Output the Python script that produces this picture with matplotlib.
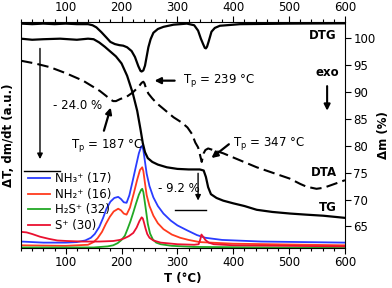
import numpy as np
import matplotlib
matplotlib.use("Agg")
import matplotlib.pyplot as plt
from matplotlib.ticker import MultipleLocator

# values (T in degC, y in the Δm % scale of the right axis)
dtg_T = [20, 40, 60, 80, 100, 120, 140, 148, 155, 164, 173, 180, 188, 196, 203, 210, 218, 224,
         230, 234, 236, 239, 242, 245, 248, 252, 257, 265, 275, 293, 317, 330, 337, 342, 346,
         349, 351, 353, 356, 361, 367, 376, 412, 500, 600]
dtg_y = [102.7, 102.6, 102.7, 102.6, 102.7, 102.6, 102.6, 102.4, 102.0, 101.1, 100.1, 99.3,
         98.9, 98.7, 98.6, 98.3, 97.6, 96.5, 94.8, 93.9, 93.8, 94.0, 94.9, 96.6, 98.3, 99.8,
         101.0, 101.7, 102.1, 102.5, 102.7, 102.4, 101.4, 99.9, 98.9, 98.2, 98.1, 98.4, 99.4,
         101.2, 101.9, 102.3, 102.6, 102.7, 102.75]

tg_T = [20, 40, 60, 90, 120, 140, 150, 160, 170, 180, 190, 200, 210, 220, 228, 234, 238, 242,
        247, 255, 265, 281, 300, 320, 340, 347, 351, 355, 360, 370, 382, 400, 420, 442, 470,
        502, 530, 561, 600]
tg_y = [99.9, 99.7, 99.8, 99.9, 99.7, 99.9, 99.8, 99.2, 98.4, 97.5, 96.6, 95.3, 93.0, 89.8,
        86.5, 83.0, 80.5, 78.8, 77.7, 77.0, 76.5, 76.0, 75.7, 75.6, 75.6, 75.4, 74.2, 72.3,
        71.0, 70.3, 69.8, 69.3, 68.8, 68.1, 67.7, 67.4, 67.2, 67.0, 66.6]

dta_T = [20, 45, 72, 100, 131, 150, 161, 172, 180, 185, 190, 198, 209, 220, 230, 236, 239, 241,
         244, 248, 255, 263, 278, 293, 308, 318, 326, 332, 337, 340, 343.5, 347, 350, 355, 370,
         382, 412, 442, 470, 501, 520, 531, 549, 562, 573, 600]
dta_y = [95.8, 95.3, 94.6, 93.5, 92.1, 90.9, 90.2, 89.3, 88.6, 88.3, 88.3, 88.7, 89.1, 89.9,
         90.9, 91.7, 91.9, 91.6, 90.6, 89.7, 88.8, 87.9, 86.6, 85.3, 84.3, 83.4, 82.2, 80.6,
         79.7, 78.5, 77.0, 78.6, 79.2, 79.5, 79.0, 78.6, 77.3, 76.0, 75.0, 73.9, 72.9, 72.4,
         72.0, 72.2, 72.6, 73.6]

nh3_T = [20, 60, 100, 120, 135, 145, 152, 160, 167, 173, 180, 187, 194, 199, 204, 209, 214, 220,
         226, 231, 235, 237, 239, 242, 245, 250, 257, 265, 275, 288, 300, 317, 335, 350, 380,
         450, 600]
nh3_y = [62.2, 62.0, 62.0, 62.1, 62.4, 62.9, 63.6, 64.9, 66.6, 68.3, 69.6, 70.3, 70.5, 70.1,
         69.5, 69.4, 70.8, 73.5, 76.3, 78.6, 79.8, 80.0, 79.2, 77.0, 74.8, 72.5, 70.4, 68.8,
         67.4, 66.1, 65.2, 64.3, 63.4, 62.9, 62.5, 62.2, 62.0]

nh2_T = [20, 100, 140, 150, 157, 165, 172, 179, 186, 194, 199, 204, 209, 215, 222, 228, 233,
         237, 239, 242, 245, 250, 257, 265, 275, 290, 305, 320, 340, 400, 600]
nh2_y = [61.5, 61.4, 61.6, 62.1, 62.8, 64.0, 65.5, 66.8, 67.8, 68.3, 68.0, 67.4, 67.2, 68.5,
         71.2, 73.7, 75.5, 76.0, 75.3, 73.0, 70.8, 68.8, 67.0, 65.6, 64.5, 63.5, 62.9, 62.5,
         62.1, 61.8, 61.5]

h2s_T = [20, 150, 175, 185, 193, 200, 206, 211, 216, 221, 226, 231, 235, 237, 239, 241, 244,
         247, 251, 256, 262, 270, 290, 330, 600]
h2s_y = [61.1, 61.1, 61.3, 61.5, 61.9, 62.5, 63.3, 64.6, 66.0, 67.6, 69.3, 70.9, 71.8, 72.0,
         71.4, 70.0, 67.8, 65.5, 63.7, 62.6, 62.0, 61.7, 61.4, 61.2, 61.0]

s_T = [20, 30, 40, 54, 70, 85, 102, 130, 160, 185, 197, 205, 213, 221, 227, 232, 236, 238, 240,
       243, 246, 250, 257, 270, 300, 330, 338, 341, 343, 346, 350, 356, 365, 400, 600]
s_y = [64.0, 63.9, 63.6, 63.1, 62.7, 62.4, 62.3, 62.2, 62.2, 62.3, 62.5, 62.8, 63.2, 63.8, 64.8,
       66.0, 66.7, 66.5, 65.8, 64.6, 63.6, 62.9, 62.4, 62.0, 61.7, 61.6, 61.7, 62.6, 63.5, 63.1,
       62.5, 62.0, 61.7, 61.5, 61.3]

ms_labels = ["NH₃⁺ (17)", "NH₂⁺ (16)", "H₂S⁺ (32)", "S⁺ (30)"]
ms_colors = ["#2a3cff", "#ff3a1e", "#22a825", "#ea1030"]

fs = 8.5
fig = plt.figure(figsize=(3.92, 2.88), dpi=100)
ax = fig.add_axes([21 / 392, 1 - 248 / 288, 324 / 392, 226 / 288])

for T, y, c, lab in zip([nh3_T, nh2_T, h2s_T, s_T], [nh3_y, nh2_y, h2s_y, s_y], ms_colors, ms_labels):
    ax.plot(T, y, color=c, lw=1.3, label=lab, solid_joinstyle="round")

ax.plot(dtg_T, dtg_y, color="black", lw=1.6, solid_joinstyle="round")
ax.plot(tg_T, tg_y, color="black", lw=1.6, solid_joinstyle="round")
ax.plot(dta_T, dta_y, color="black", lw=1.5, dashes=(5.5, 2.5))

ax.set_xlim(20, 600)
ax.set_ylim(61, 103)
ax.xaxis.set_major_locator(MultipleLocator(100))
ax.xaxis.set_minor_locator(MultipleLocator(20))
ax.set_yticks([65, 70, 75, 80, 85, 90, 95, 100])
ax.yaxis.tick_right()
ax.yaxis.set_label_position("right")
ax.tick_params(axis="x", which="both", top=True, labeltop=True, direction="out", labelsize=fs, pad=2)
ax.tick_params(axis="x", which="major", length=4, width=0.8)
ax.tick_params(axis="x", which="minor", length=2.5, width=0.8)
ax.tick_params(axis="y", which="both", left=False, right=True, direction="out", length=4,
               width=0.8, labelsize=fs, pad=2)
for sp in ax.spines.values():
    sp.set_linewidth(0.8)

ax.set_xlabel("T (°C)", fontsize=fs, fontweight="bold", labelpad=2)
ax.set_ylabel("Δm (%)", fontsize=fs, fontweight="bold", labelpad=1)
ax.text(-0.04, 0.5, "ΔT, dm/dt (a.u.)", transform=ax.transAxes, rotation=90,
        ha="center", va="center", fontsize=fs, fontweight="bold")

# curve names
ax.text(585, 100.4, "DTG", ha="right", va="center", fontsize=fs, fontweight="bold")
ax.text(568, 93.6, "exo", ha="center", va="center", fontsize=fs, fontweight="bold")
ax.annotate("", xy=(568, 86.0), xytext=(568, 91.6),
            arrowprops=dict(arrowstyle="-|>", color="black", lw=1.5, mutation_scale=9))
ax.text(585, 75.1, "DTA", ha="right", va="center", fontsize=fs, fontweight="bold")
ax.text(585, 68.6, "TG", ha="right", va="center", fontsize=fs, fontweight="bold")

# peak temperatures
tp = r"T$_\mathregular{p}$ = "
ax.text(310, 92.1, tp + "239 °C", ha="left", va="center", fontsize=fs)
ax.annotate("", xy=(254, 92.1), xytext=(300, 92.1),
            arrowprops=dict(arrowstyle="-|>", color="black", lw=1.6, mutation_scale=9))
ax.text(110, 80.1, tp + "187 °C", ha="left", va="center", fontsize=fs)
ax.annotate("", xy=(182, 87.6), xytext=(167, 82.3),
            arrowprops=dict(arrowstyle="-|>", color="black", lw=1.6, mutation_scale=9))
ax.text(400, 80.4, tp + "347 °C", ha="left", va="center", fontsize=fs)
ax.annotate("", xy=(357, 77.4), xytext=(396, 80.6),
            arrowprops=dict(arrowstyle="-|>", color="black", lw=1.6, mutation_scale=9))

# mass losses
ax.text(77, 87.5, "- 24.0 %", ha="left", va="center", fontsize=fs)
ax.annotate("", xy=(54, 77.0), xytext=(54, 98.6),
            arrowprops=dict(arrowstyle="-|>", color="black", lw=1.0, mutation_scale=8))
ax.plot([25, 90], [75.4, 75.4], color="black", lw=1.0)
ax.text(265, 72.1, "- 9.2 %", ha="left", va="center", fontsize=fs)
ax.annotate("", xy=(337, 69.3), xytext=(337, 75.4),
            arrowprops=dict(arrowstyle="-|>", color="black", lw=1.0, mutation_scale=8))
ax.plot([296, 352], [68.0, 68.0], color="black", lw=1.0)

ax.legend(loc="upper left", bbox_to_anchor=(0.022, 0.335), frameon=False, fontsize=fs,
          handlelength=1.85, handletextpad=0.4, labelspacing=0.22, borderpad=0,
          borderaxespad=0)

fig.savefig("out.png", dpi=100)
